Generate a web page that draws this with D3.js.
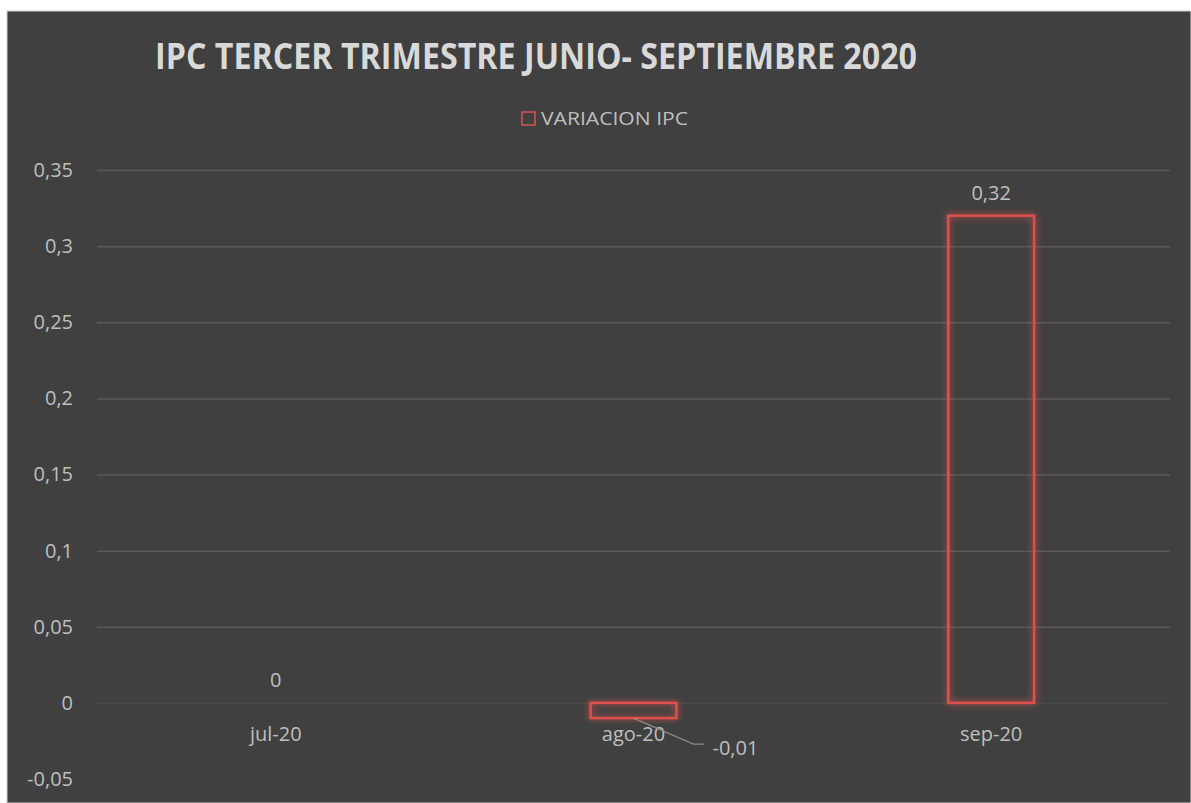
<!DOCTYPE html>
<html>
<head>
<meta charset="utf-8">
<script src="https://cdn.jsdelivr.net/npm/d3@7"></script>
<style>
  html, body { margin: 0; padding: 0; background: #fff; }
  svg { display: block; }
</style>
</head>
<body>
<svg id="chart" width="1191" height="803"></svg>
<script>
const categories = ['jul-20', 'ago-20', 'sep-20'];
const values = [0, -0.01, 0.32];
const yTicks = [-0.05, 0, 0.05, 0.1, 0.15, 0.2, 0.25, 0.3, 0.35];
const title = 'IPC TERCER TRIMESTRE JUNIO- SEPTIEMBRE 2020';
const seriesName = 'VARIACION IPC';

main();

function main () {
  const svg = d3.select('#chart');
  const W = 1191;
  const H = 803;
  const plot = { left: 97, right: 1170, top: 170, bottom: 779 };
  // excel style: comma decimals, plain hyphen for minus
  const fmt = v => String(+v.toFixed(2)).replace('.', ',');
  const font = 'Open Sans';
  const txt = '#bfbfbf';

  const x = d3.scaleBand()
    .domain(categories)
    .range([plot.left, plot.right])
    .paddingInner(0.76)
    .paddingOuter(0.38);
  const y = d3.scaleLinear()
    .domain([-0.05, 0.35])
    .range([plot.bottom, plot.top]);

  // glow for the bars
  const defs = svg.append('defs');
  const glow = defs.append('filter').attr('id', 'glow')
    .attr('x', '-30%').attr('y', '-30%').attr('width', '160%').attr('height', '160%');
  glow.append('feGaussianBlur').attr('in', 'SourceGraphic').attr('stdDeviation', 3.5).attr('result', 'b');
  const merge = glow.append('feMerge');
  merge.append('feMergeNode').attr('in', 'b');
  merge.append('feMergeNode').attr('in', 'SourceGraphic');

  // background panel
  svg.append('rect')
    .attr('x', 7).attr('y', 11)
    .attr('width', W - 7).attr('height', H - 11)
    .attr('fill', '#404040')
    .attr('stroke', '#d0d0d0')
    .attr('stroke-width', 1);

  // title
  svg.append('text').text(title)
    .attr('x', 536).attr('y', 69)
    .attr('text-anchor', 'middle')
    .attr('font-family', font)
    .attr('font-weight', 700)
    .attr('font-size', '35px')
    .attr('textLength', 762)
    .attr('lengthAdjust', 'spacingAndGlyphs')
    .attr('fill', '#d9d9d9');

  // legend
  svg.append('rect')
    .attr('x', 522).attr('y', 112)
    .attr('width', 13).attr('height', 13)
    .attr('fill', 'none')
    .attr('stroke', '#d9534f')
    .attr('stroke-width', 1.5);
  svg.append('text').text(seriesName)
    .attr('x', 541).attr('y', 125)
    .attr('font-family', font)
    .attr('font-size', '19px')
    .attr('textLength', 147)
    .attr('lengthAdjust', 'spacingAndGlyphs')
    .attr('fill', txt);

  // grid + y axis
  const yAxis = d3.axisLeft(y)
    .tickValues(yTicks)
    .tickSize(-(plot.right - plot.left))
    .tickPadding(24)
    .tickFormat(fmt);
  const gy = svg.append('g')
    .attr('transform', `translate(${plot.left},0)`)
    .call(yAxis);
  gy.select('.domain').remove();
  gy.selectAll('.tick line')
    .attr('stroke', d => d === 0 ? '#4a4a4a' : '#5a5a5a')
    .attr('stroke-width', 1.5)
    .attr('display', d => d < 0 ? 'none' : null);
  gy.selectAll('.tick text')
    .attr('fill', txt)
    .attr('font-family', font)
    .attr('font-size', '20px');

  // category labels
  svg.append('g').selectAll('text')
    .data(categories)
    .join('text')
    .text(d => d)
    .attr('x', d => x(d) + x.bandwidth() / 2)
    .attr('y', y(0) + 38)
    .attr('text-anchor', 'middle')
    .attr('font-family', font)
    .attr('font-size', '20px')
    .attr('fill', txt);

  // bars
  svg.append('g').selectAll('rect')
    .data(values.map((v, i) => ({ v, c: categories[i] })).filter(d => d.v !== 0))
    .join('rect')
    .attr('x', d => x(d.c))
    .attr('y', d => y(Math.max(0, d.v)))
    .attr('width', x.bandwidth())
    .attr('height', d => Math.abs(y(d.v) - y(0)))
    .attr('fill', 'none')
    .attr('stroke', '#e0504c')
    .attr('stroke-width', 2.5)
    .attr('filter', 'url(#glow)');

  // data labels
  values.forEach((v, i) => {
    const cx = x(categories[i]) + x.bandwidth() / 2;
    if (v < 0) {
      const by = y(v);
      svg.append('path')
        .attr('d', d3.line()([[cx, by], [cx + 60, by + 26], [cx + 70, by + 26]]))
        .attr('fill', 'none')
        .attr('stroke', '#8c8c8c')
        .attr('stroke-width', 1.2);
      svg.append('text').text(fmt(v))
        .attr('x', cx + 79).attr('y', by + 37)
        .attr('font-family', font)
        .attr('font-size', '20px')
        .attr('fill', txt);
    } else {
      svg.append('text').text(fmt(v))
        .attr('x', cx).attr('y', y(v) - 16)
        .attr('text-anchor', 'middle')
        .attr('font-family', font)
        .attr('font-size', '20px')
        .attr('fill', txt);
    }
  });
}
</script>
</body>
</html>
